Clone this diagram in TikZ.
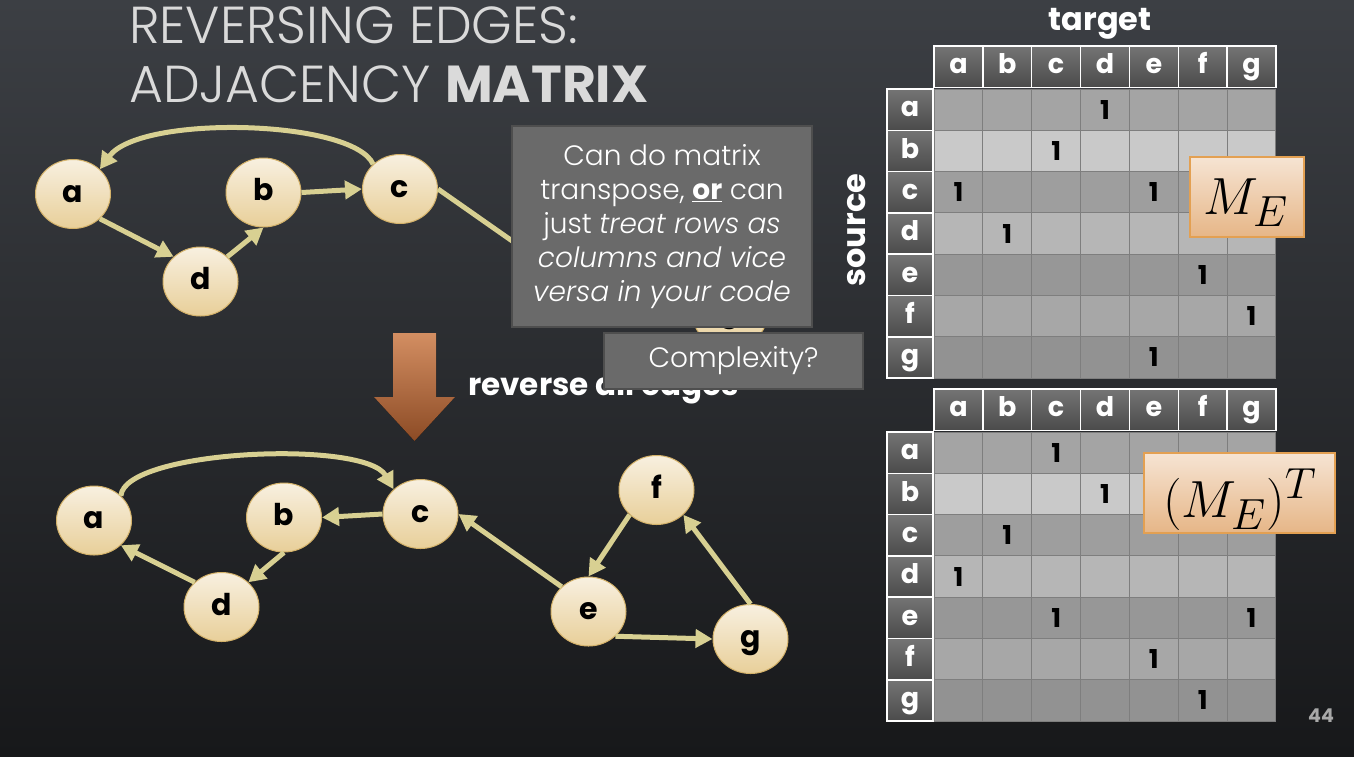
\documentclass[tikz,border=0pt]{standalone}
\usepackage{fontspec}
\setmainfont{Poppins}
\IfFontExistsTF{Poppins Light}
  {\newfontfamily\thinfont{Poppins Light}[ItalicFont={Poppins Light Italic},BoldFont={Poppins Bold}]}
  {\newfontfamily\thinfont{Poppins}}
\usetikzlibrary{shapes.geometric,arrows.meta}

\definecolor{bgtop}{HTML}{3C3F44}
\definecolor{bgmid}{HTML}{2A2C30}
\definecolor{bgbot}{HTML}{17181A}
\definecolor{titlegray}{HTML}{DADADA}
\definecolor{edgecol}{HTML}{D8D092}
\definecolor{nodetop}{HTML}{F8F0E0}
\definecolor{nodebot}{HTML}{E8CF99}
\definecolor{nodeline}{HTML}{D4B26A}
\definecolor{boxgray}{HTML}{6A6A6A}
\definecolor{boxline}{HTML}{4E4E4E}
\definecolor{arrowtop}{HTML}{D38E62}
\definecolor{arrowbot}{HTML}{8C4B25}
\definecolor{hdtop}{HTML}{747474}
\definecolor{hdbot}{HTML}{4B4B4B}
\definecolor{gridgray}{HTML}{7E7E7E}
\definecolor{rowa}{HTML}{A4A4A4}
\definecolor{rowb}{HTML}{C9C9C9}
\definecolor{rowc}{HTML}{9E9E9E}
\definecolor{rowd}{HTML}{B6B6B6}
\definecolor{rowe}{HTML}{979797}
\definecolor{rowf}{HTML}{A7A7A7}
\definecolor{rowg}{HTML}{929292}
\definecolor{peach}{HTML}{F6E4D3}
\definecolor{boxtan}{HTML}{E6B687}
\definecolor{boxedge}{HTML}{E3A052}
\definecolor{pagegray}{HTML}{A8A8A8}

\tikzset{
  title/.style={anchor=base west, inner sep=0pt, text=titlegray,
    font=\thinfont\fontsize{52}{52}\selectfont},
  vertex/.style={ellipse, minimum width=75pt, minimum height=69pt, inner sep=0pt,
    top color=nodetop, bottom color=nodebot, draw=nodeline, line width=1pt,
    text height=22pt, text depth=6pt,
    font=\fontsize{30}{30}\selectfont\bfseries},
  conn/.style={draw=edgecol, line width=5pt, -{Triangle[length=17pt,width=18pt]}},
  notebox/.style={fill=boxgray, draw=boxline, line width=2pt, text=white,
    align=center, inner sep=0pt, font=\thinfont\fontsize{28}{34}\selectfont},
  revtext/.style={anchor=base west, inner sep=0pt, text=white,
    font=\fontsize{31}{31}\selectfont\bfseries},
  bigword/.style={inner sep=0pt, text=white, font=\fontsize{32}{32}\selectfont\bfseries},
  headcell/.style={draw=white, line width=1.5pt, top color=hdtop, bottom color=hdbot,
    minimum width=48.85pt, minimum height=41.5pt, inner sep=0pt, text=white,
    text height=20pt, text depth=5.4pt, font=\fontsize{27}{27}\selectfont\bfseries},
  rowcell/.style={headcell, minimum width=46pt, minimum height=41.3pt},
  cellline/.style={draw=gridgray, line width=1pt},
  one/.style={inner sep=0pt, text=black, font=\fontsize{26}{26}\selectfont\bfseries},
  mathbox/.style={draw=boxedge, line width=1.5pt, top color=peach, bottom color=boxtan,
    inner sep=0pt},
  mathtext/.style={inner sep=0pt, text=black, font=\Huge}
}

\begin{document}
\begin{tikzpicture}[x=1pt, y=-1pt]
  \useasboundingbox (0,0) rectangle (1354,756);
  \fill[top color=bgtop, middle color=bgmid, bottom color=bgbot] (0,0) rectangle (1354,756);

  % title
  \node[title] (title1) at (129,43) {REVERSING EDGES:};
  \node[title] (title2) at (129,102) {ADJACENCY \textbf{MATRIX}};

  % original graph (partly under the notes)
  \node[vertex] (a) at (73,194) {a};
  \node[vertex] (b) at (263.5,192.5) {b};
  \node[vertex] (c) at (400,189) {c};
  \node[vertex] (d) at (200.5,281.5) {d};
  \node[vertex] (e) at (568,286) {};
  \node[vertex] (f) at (636,164.5) {};
  \node[vertex] (g) at (730,313.5) {g};
  \draw[conn] (a.south east) -- (d.north west);
  \draw[conn] (d.north east) -- (b.south);
  \draw[conn] (b.east) -- (c.west);
  \draw[conn] (c.north west) .. controls +(-20,-45) and +(40,-55) .. (a.north east);
  \draw[conn] (c.east) -- (e.north west);
  \draw[conn] (e.north) -- (f.south west);
  \draw[conn] (f.south east) -- (g.north);
  \draw[conn] (g.west) -- (e.south east);

  % notes over the graph
  \node[notebox, minimum width=300pt, minimum height=201pt] (note) at (662,226.5)
    {Can do matrix\\ transpose, \underline{\textbf{or}} can\\ just \textit{treat rows as}\\
     \textit{columns and vice}\\ \textit{versa in your code}};
  \node[revtext] (rev) at (468,395) {reverse all edges};
  \node[notebox, minimum width=259pt, minimum height=56pt] (cplx) at (733.5,361) {Complexity?};

  % down arrow
  \fill[top color=arrowtop, bottom color=arrowbot] (393,333) -- (436,333) -- (436,397)
    -- (455,397) -- (414.5,441) -- (374,397) -- (393,397) -- cycle;

  % reversed graph
  \node[vertex] (ra) at (94,520.5) {a};
  \node[vertex] (rb) at (284,517.5) {b};
  \node[vertex] (rc) at (420.5,514) {c};
  \node[vertex] (rd) at (221.5,607) {d};
  \node[vertex] (re) at (588.5,611.5) {e};
  \node[vertex] (rf) at (656.5,490) {f};
  \node[vertex] (rg) at (750.5,639) {g};
  \draw[conn] (ra.north east) .. controls +(4,-46) and +(-29,-50) .. (rc.north west);
  \draw[conn] (rc.west) -- (rb.east);
  \draw[conn] (rb.south) -- (rd.north east);
  \draw[conn] (rd.north west) -- (ra.south east);
  \draw[conn] (re.north west) -- (rc.east);
  \draw[conn] (rf.south west) -- (re.north);
  \draw[conn] (re.south east) -- (rg.west);
  \draw[conn] (rg.north) -- (rf.south east);

  % matrices
  \node[bigword, anchor=base] (target) at (1100,30) {target};
  \node[bigword, rotate=90] (source) at (857,230) {source};
  \foreach \m/\yh/\yb/\ones in {A/66.5/89/{1/4,2/3,3/1,3/5,4/2,5/6,6/7,7/5},
                                 B/409.5/432/{1/3,2/4,3/2,4/1,5/3,5/7,6/5,7/6}} {
    \foreach \shade [count=\r] in {rowa,rowb,rowc,rowd,rowe,rowf,rowg}
      \foreach \c in {1,...,7}
        \draw[cellline, fill=\shade] ({934+(\c-1)*48.85},{\yb+(\r-1)*41.3}) rectangle ++(48.85,41.3);
    \foreach \n [count=\i] in {a,b,c,d,e,f,g} {
      \node[headcell] (h\m\n) at ({934+(\i-0.5)*48.85},\yh) {\n};
      \node[rowcell] (s\m\n) at (910,{\yb+(\i-0.5)*41.3}) {\n};
    }
    \foreach \r/\c in \ones
      \node[one] (o\m\r\c) at ({934+(\c-0.5)*48.85},{\yb+(\r-0.5)*41.3}) {1};
  }

  \node[mathbox, minimum width=114pt, minimum height=80pt] (me) at (1247,197) {};
  \node[mathtext] (metext) at (1246,203) {\scalebox{2.1}{$M_E$}};
  \node[mathbox, minimum width=191pt, minimum height=80pt] (met) at (1239.5,493) {};
  \node[mathtext] (mettext) at (1240,499.5) {\scalebox{2.1}{$(M_E)^T$}};

  \node[inner sep=0pt, text=pagegray, font=\fontsize{19}{19}\selectfont\bfseries] (page) at (1321,716) {44};
\end{tikzpicture}
\end{document}
